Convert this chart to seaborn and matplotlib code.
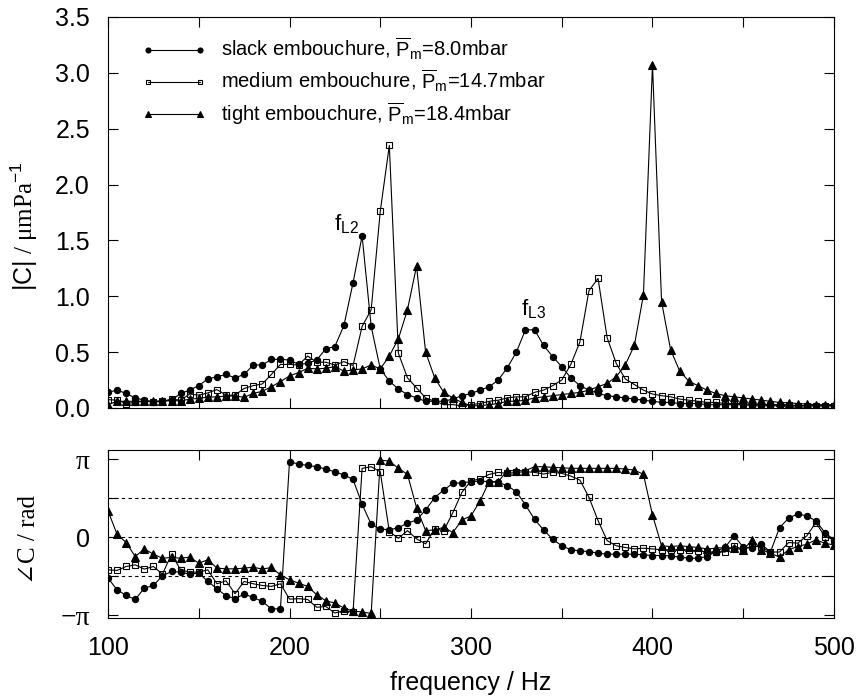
import numpy as np
import pandas as pd
import matplotlib
matplotlib.use("Agg")
import matplotlib.pyplot as plt
from matplotlib.ticker import MultipleLocator, FixedLocator
import seaborn as sns

### data
freq = list(range(100, 505, 5))

mag_slack = [0.14, 0.16, 0.13, 0.09, 0.07, 0.055, 0.06, 0.07, 0.13, 0.16,
             0.20, 0.26, 0.28, 0.30, 0.27, 0.30, 0.385, 0.385, 0.435, 0.435,
             0.43, 0.39, 0.40, 0.43, 0.53, 0.55, 0.74, 1.12, 1.54, 0.73,
             0.35, 0.24, 0.17, 0.12, 0.09, 0.06, 0.06, 0.06, 0.08, 0.11,
             0.13, 0.16, 0.19, 0.25, 0.36, 0.50, 0.70, 0.70, 0.56, 0.46,
             0.37, 0.27, 0.20, 0.16, 0.13, 0.11, 0.10, 0.09, 0.08, 0.07,
             0.06, 0.05, 0.05, 0.04, 0.04, 0.04, 0.03, 0.03, 0.03, 0.03,
             0.03, 0.02, 0.02, 0.02, 0.02, 0.02, 0.02, 0.02, 0.02, 0.02, 0.02]
mag_medium = [0.075, 0.07, 0.04, 0.05, 0.06, 0.055, 0.06, 0.08, 0.07, 0.125,
              0.115, 0.135, 0.165, 0.115, 0.115, 0.175, 0.20, 0.215, 0.30, 0.39,
              0.39, 0.385, 0.465, 0.41, 0.41, 0.385, 0.415, 0.38, 0.73, 0.88,
              1.76, 2.35, 0.49, 0.27, 0.18, 0.09, 0.06, 0.03, 0.03, 0.02,
              0.03, 0.04, 0.06, 0.07, 0.09, 0.10, 0.10, 0.14, 0.16, 0.20,
              0.25, 0.39, 0.59, 1.05, 1.16, 0.63, 0.40, 0.26, 0.21, 0.16,
              0.125, 0.11, 0.10, 0.08, 0.07, 0.06, 0.05, 0.05, 0.04, 0.04,
              0.04, 0.03, 0.03, 0.03, 0.03, 0.03, 0.02, 0.02, 0.02, 0.02, 0.02]
mag_tight = [0.03, 0.06, 0.06, 0.06, 0.06, 0.06, 0.065, 0.065, 0.065, 0.078,
             0.087, 0.096, 0.10, 0.107, 0.107, 0.096, 0.13, 0.15, 0.19, 0.236,
             0.287, 0.317, 0.356, 0.35, 0.356, 0.37, 0.33, 0.34, 0.35, 0.385,
             0.35, 0.465, 0.62, 0.88, 1.27, 0.50, 0.27, 0.14, 0.09, 0.05,
             0.02, 0.02, 0.03, 0.04, 0.06, 0.06, 0.07, 0.09, 0.10, 0.11,
             0.12, 0.13, 0.14, 0.16, 0.19, 0.22, 0.28, 0.385, 0.56, 1.01,
             3.07, 0.95, 0.52, 0.33, 0.24, 0.20, 0.16, 0.13, 0.11, 0.10,
             0.09, 0.08, 0.07, 0.06, 0.05, 0.045, 0.04, 0.035, 0.03, 0.03, 0.03]

# phase in units of pi
ph_slack = [-0.526, -0.675, -0.748, -0.80, -0.654, -0.62, -0.496, -0.44, -0.449, -0.474,
            -0.46, -0.568, -0.662, -0.752, -0.79, -0.73, -0.774, -0.825, -0.92, -0.92,
            0.97, 0.94, 0.923, 0.906, 0.876, 0.84, 0.80, 0.744, 0.423, 0.167,
            0.107, 0.094, 0.124, 0.18, 0.222, 0.35, 0.509, 0.607, 0.692, 0.70,
            0.714, 0.722, 0.714, 0.705, 0.662, 0.585, 0.415, 0.23, 0.094, -0.026,
            -0.11, -0.162, -0.175, -0.184, -0.205, -0.218, -0.218, -0.218, -0.218, -0.226,
            -0.235, -0.235, -0.24, -0.256, -0.27, -0.27, -0.248, -0.184, -0.128, 0.017,
            -0.128, -0.14, -0.09, -0.19, 0.124, 0.244, 0.30, 0.274, 0.21, 0.06, -0.034]
ph_medium = [-0.419, -0.427, -0.376, -0.355, -0.41, -0.376, -0.474, -0.218, -0.419, -0.449,
             -0.449, -0.419, -0.598, -0.56, -0.726, -0.568, -0.598, -0.62, -0.632, -0.598,
             -0.795, -0.79, -0.80, -0.90, -0.89, -0.974, -0.944, -0.966, 0.885, 0.906,
             0.842, 0.073, -0.013, 0.085, -0.021, -0.085, 0.107, 0.085, 0.316, 0.577,
             0.726, 0.748, 0.808, 0.833, 0.82, 0.833, 0.842, 0.833, 0.812, 0.833,
             0.82, 0.786, 0.735, 0.513, 0.214, -0.043, -0.11, -0.132, -0.15, -0.141,
             -0.15, -0.162, -0.162, -0.162, -0.162, -0.175, -0.19, -0.19, -0.19, -0.11,
             -0.162, -0.11, -0.13, -0.19, -0.19, -0.068, -0.077, 0.017, 0.188, 0.009, -0.03]
ph_tight = [0.338, 0.038, -0.068, -0.248, -0.15, -0.218, -0.27, -0.26, -0.27, -0.256,
            -0.333, -0.29, -0.397, -0.406, -0.406, -0.397, -0.385, -0.41, -0.389, -0.483,
            -0.547, -0.59, -0.632, -0.74, -0.816, -0.846, -0.91, -0.95, -0.96, -0.98,
            0.99, 0.979, 0.885, 0.808, 0.38, 0.085, 0.094, 0.128, 0.06, 0.222,
            0.274, 0.466, 0.714, 0.714, 0.855, 0.855, 0.855, 0.906, 0.906, 0.897,
            0.893, 0.885, 0.885, 0.885, 0.885, 0.885, 0.885, 0.876, 0.863, 0.808,
            0.286, -0.11, -0.12, -0.11, -0.12, -0.132, -0.15, -0.141, -0.132, -0.141,
            -0.162, -0.034, -0.16, -0.205, -0.256, -0.16, -0.12, -0.09, -0.034, -0.077, -0.1]

labels = [r"slack embouchure, $\overline{\mathsf{P}}_{\mathsf{m}}$=8.0mbar",
          r"medium embouchure, $\overline{\mathsf{P}}_{\mathsf{m}}$=14.7mbar",
          r"tight embouchure, $\overline{\mathsf{P}}_{\mathsf{m}}$=18.4mbar"]

### style
sns.set_style("ticks")
plt.rcParams["font.family"] = ["Liberation Sans", "DejaVu Sans"]
plt.rcParams["mathtext.fontset"] = "custom"
plt.rcParams["mathtext.rm"] = "Liberation Sans"
plt.rcParams["mathtext.sf"] = "Liberation Sans"
plt.rcParams["mathtext.it"] = "Liberation Sans:italic"
for k in ("text.color", "axes.labelcolor", "xtick.color", "ytick.color", "axes.edgecolor"):
    plt.rcParams[k] = "black"

fig = plt.figure(figsize=(8.62, 6.96), dpi=100)
ax1 = fig.add_axes([0.1253, 0.4138, 0.8422, 0.5618])
ax2 = fig.add_axes([0.1253, 0.1121, 0.8422, 0.2413])

styles = [dict(marker="o", markersize=4.5, markerfacecolor="k"),
          dict(marker="s", markersize=4.3, markerfacecolor="none"),
          dict(marker="^", markersize=5.3, markerfacecolor="k")]

for mags, phs, lab, st in zip([mag_slack, mag_medium, mag_tight],
                              [ph_slack, ph_medium, ph_tight], labels, styles):
    df = pd.DataFrame({"f": freq, "mag": mags, "ph": np.array(phs) * np.pi})
    sns.lineplot(data=df, x="f", y="mag", ax=ax1, color="k", linewidth=0.8,
                 markeredgecolor="k", markeredgewidth=0.8, label=lab, **st)
    sns.lineplot(data=df, x="f", y="ph", ax=ax2, color="k", linewidth=0.8,
                 markeredgecolor="k", markeredgewidth=0.8, **st)

for y in (-np.pi / 2, 0, np.pi / 2):
    ax2.axhline(y, color="k", linewidth=0.8, linestyle=(0, (3, 3)), zorder=0)

for ax in (ax1, ax2):
    ax.set_xlim(100, 500)
    ax.xaxis.set_major_locator(MultipleLocator(100))
    ax.xaxis.set_minor_locator(MultipleLocator(50))
    ax.tick_params(which="both", direction="in", top=True, right=True,
                   length=7, width=0.8, labelsize=18, pad=13)
    for s in ax.spines.values():
        s.set_linewidth(0.8)
    ax.set_xlabel("")
    ax.set_ylabel("")

ax1.set_ylim(0, 3.5)
ax1.yaxis.set_major_locator(MultipleLocator(0.5))
ax1.yaxis.set_major_formatter(plt.FormatStrFormatter("%.1f"))
ax1.tick_params(labelbottom=False)
ax1.set_ylabel("$\\mathsf{|C|}$ / \u03bcmPa$^{-1}$", fontsize=18,
               family=["Liberation Serif", "DejaVu Serif"])
ax1.yaxis.set_label_coords(-0.094, 0.465)

ax2.set_ylim(-3.26, 3.52)
ax2.yaxis.set_major_locator(FixedLocator([-np.pi, 0, np.pi]))
ax2.yaxis.set_minor_locator(FixedLocator([-np.pi / 2, np.pi / 2]))
ax2.set_yticklabels(["\u2212\u03c0", "0", "\u03c0"])
for t, fam, fs in zip(ax2.get_yticklabels(),
                      ["Liberation Serif", "Liberation Sans", "Liberation Serif"],
                      [20, 18, 20]):
    t.set_family([fam, "DejaVu Sans"])
    t.set_fontsize(fs)
ax2.set_ylabel("\u2220C / rad", fontsize=18, family=["Liberation Serif", "DejaVu Serif"])
ax2.yaxis.set_label_coords(-0.094, 0.47)
ax2.set_xlabel("frequency / Hz", fontsize=18)
ax2.xaxis.set_label_coords(0.5, -0.315)

ax1.text(224.5, 1.59, r"f$_{\mathsf{L2}}$", fontsize=16)
ax1.text(327.4, 0.83, r"f$_{\mathsf{L3}}$", fontsize=16)

ax1.legend(loc="upper left", bbox_to_anchor=(0.047, 0.952), frameon=False,
           handlelength=3.15, numpoints=2, fontsize=14.5, labelspacing=0.3,
           borderaxespad=0, borderpad=0, handletextpad=0.75, markerscale=0.8)

fig.savefig("out.png", dpi=100)
